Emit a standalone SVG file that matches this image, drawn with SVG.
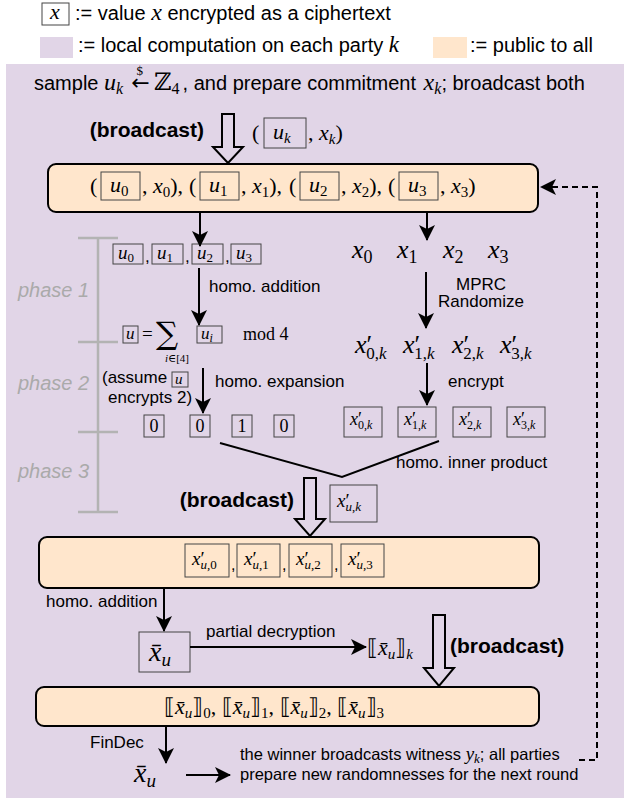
<svg xmlns="http://www.w3.org/2000/svg" width="624" height="798" viewBox="0 0 624 798">
<style>
.s{font-family:"Liberation Sans",Arial,sans-serif;fill:#000}
.b{font-family:"Liberation Sans",Arial,sans-serif;font-weight:bold;fill:#000}
.m{font-family:"Liberation Serif","DejaVu Serif",serif;font-style:italic;fill:#000}
.u{font-style:normal}
.ph{font-family:"Liberation Sans",Arial,sans-serif;font-style:italic;fill:#aaaaaa;font-size:20px}
.pub{fill:#ffe6cc;stroke:#000;stroke-width:2}
.ct{fill:none;stroke:#444;stroke-width:1}
.ln{fill:none;stroke:#000;stroke-width:2}
.ha{fill:none;stroke:#000;stroke-width:2;stroke-linejoin:miter}
.bar{stroke:#b3b3b3;stroke-width:2.5;fill:none}
</style>
<defs>
<marker id="ah" viewBox="0 0 16 16" refX="15" refY="8" markerWidth="16" markerHeight="16" markerUnits="userSpaceOnUse" orient="auto"><path d="M0,0 L16,8 L0,16 L4,8 Z" fill="#000"/></marker>
</defs>
<rect x="0" y="0" width="624" height="798" fill="#fff"/>
<g id="legend">
<rect class="ct" x="42" y="3" width="27" height="22"/>
<text class="m" x="50" y="19" font-size="22">x</text>
<text class="s" x="75" y="20" font-size="20">:= value <tspan class="m" font-size="24">x</tspan> encrypted as a ciphertext</text>
<rect x="40" y="37" width="33" height="21" fill="#e1d5e7"/>
<text class="s" x="78" y="52" font-size="20">:= local computation on each party <tspan class="m" font-size="23">k</tspan></text>
<rect x="433" y="37" width="34" height="21" fill="#ffe6cc"/>
<text class="s" x="470" y="52" font-size="20">:= public to all</text>
</g>
<rect id="panel" x="6" y="64" width="618" height="734" fill="#e1d5e7"/>
<g id="sample">
<text class="s" x="34" y="90" font-size="20">sample <tspan class="m" font-size="24">u</tspan><tspan class="m" font-size="16" dy="4">k</tspan><tspan class="u" font-family="DejaVu Sans" font-size="22" dx="8" dy="-4">←</tspan><tspan class="m u" font-size="13" dx="-13" dy="-15">$</tspan><tspan class="m u" font-size="24" dx="11" dy="15">ℤ</tspan><tspan class="m u" font-size="16" dy="4">4</tspan><tspan dx="3" dy="-4">, and prepare commitment </tspan><tspan class="m" font-size="24" dx="2">x</tspan><tspan class="m" font-size="16" dy="4">k</tspan><tspan dy="-4">; broadcast both</tspan></text>
</g>
<g id="bc1">
<text class="b" x="204" y="137" font-size="21" text-anchor="end">(broadcast)</text>
<path class="ha" d="M222,114 L222,147 L213,147 L228,163 L243,147 L234,147 L234,114 Z"/>
<text class="m u" x="252" y="140" font-size="22">(</text>
<rect class="ct" x="264" y="118" width="42" height="30"/>
<text class="m" x="273" y="139" font-size="22">u<tspan font-size="15" dy="4">k</tspan></text>
<text class="m u" x="308" y="140" font-size="22">, <tspan class="m">x</tspan><tspan class="m" font-size="15" dy="4">k</tspan><tspan dy="-4">)</tspan></text>
</g>
<g id="box1">
<rect class="pub" x="48" y="164" width="490" height="48" rx="8"/>
<text class="m u" x="90" y="193" font-size="22">(</text>
<rect class="ct" x="101" y="172" width="39" height="28"/>
<text class="m" x="110" y="192" font-size="22">u<tspan class="u" font-size="15" dy="4">0</tspan></text>
<text class="m u" x="142" y="193" font-size="22">, <tspan class="m">x</tspan><tspan font-size="15" dy="4">0</tspan><tspan dy="-4">),</tspan></text>
<text class="m u" x="189" y="193" font-size="22">(</text>
<rect class="ct" x="200" y="172" width="39" height="28"/>
<text class="m" x="209" y="192" font-size="22">u<tspan class="u" font-size="15" dy="4">1</tspan></text>
<text class="m u" x="241" y="193" font-size="22">, <tspan class="m">x</tspan><tspan font-size="15" dy="4">1</tspan><tspan dy="-4">),</tspan></text>
<text class="m u" x="289" y="193" font-size="22">(</text>
<rect class="ct" x="300" y="172" width="39" height="28"/>
<text class="m" x="309" y="192" font-size="22">u<tspan class="u" font-size="15" dy="4">2</tspan></text>
<text class="m u" x="341" y="193" font-size="22">, <tspan class="m">x</tspan><tspan font-size="15" dy="4">2</tspan><tspan dy="-4">),</tspan></text>
<text class="m u" x="388" y="193" font-size="22">(</text>
<rect class="ct" x="399" y="172" width="39" height="28"/>
<text class="m" x="408" y="192" font-size="22">u<tspan class="u" font-size="15" dy="4">3</tspan></text>
<text class="m u" x="440" y="193" font-size="22">, <tspan class="m">x</tspan><tspan font-size="15" dy="4">3</tspan><tspan dy="-4">)</tspan></text>
</g>
<g id="phases">
<path class="bar" d="M98,238 L98,512 M78,238 L118,238 M78,342 L118,342 M78,432 L118,432 M78,512 L118,512"/>
<text class="ph" x="18" y="297">phase 1</text>
<text class="ph" x="18" y="390">phase 2</text>
<text class="ph" x="18" y="478">phase 3</text>
</g>
<g id="urow">
<rect class="ct" x="113" y="244" width="30" height="20"/>
<text class="m" x="118" y="259" font-size="19">u<tspan class="u" font-size="13" dy="3">0</tspan></text>
<text class="s" x="145" y="262" font-size="17">,</text>
<rect class="ct" x="152" y="244" width="31" height="20"/>
<text class="m" x="157" y="259" font-size="19">u<tspan class="u" font-size="13" dy="3">1</tspan></text>
<text class="s" x="185" y="262" font-size="17">,</text>
<rect class="ct" x="192" y="244" width="31" height="20"/>
<text class="m" x="197" y="259" font-size="19">u<tspan class="u" font-size="13" dy="3">2</tspan></text>
<text class="s" x="225" y="262" font-size="17">,</text>
<rect class="ct" x="231" y="244" width="30" height="20"/>
<text class="m" x="236" y="259" font-size="19">u<tspan class="u" font-size="13" dy="3">3</tspan></text>
</g>
<g id="sum">
<rect class="ct" x="123" y="326" width="15" height="17"/>
<text class="m" x="126" y="339" font-size="17">u</text>
<text class="m u" x="142" y="340" font-size="19">=</text>
<text class="u" x="156" y="344" font-size="31" font-family="DejaVu Serif">∑</text>
<text class="m" x="177" y="362" font-size="11" text-anchor="middle">i<tspan class="u">∈[4]</tspan></text>
<rect class="ct" x="197" y="326" width="25" height="17"/>
<text class="m" x="201" y="339" font-size="17">u<tspan font-size="12" dy="3">i</tspan></text>
<text class="m u" x="243" y="340" font-size="18">mod 4</text>
</g>
<g id="xrow">
<text class="m" x="352" y="258" font-size="26">x<tspan class="u" font-size="18" dy="5">0</tspan></text>
<text class="m" x="397" y="258" font-size="26">x<tspan class="u" font-size="18" dy="5">1</tspan></text>
<text class="m" x="443" y="258" font-size="26">x<tspan class="u" font-size="18" dy="5">2</tspan></text>
<text class="m" x="488" y="258" font-size="26">x<tspan class="u" font-size="18" dy="5">3</tspan></text>
</g>
<g id="xprow">
<text class="m" x="355" y="353" font-size="26">x<tspan class="u">′</tspan><tspan class="u" font-size="17" dx="-6" dy="6">0,<tspan class="m">k</tspan></tspan></text>
<text class="m" x="403" y="353" font-size="26">x<tspan class="u">′</tspan><tspan class="u" font-size="17" dx="-6" dy="6">1,<tspan class="m">k</tspan></tspan></text>
<text class="m" x="452" y="353" font-size="26">x<tspan class="u">′</tspan><tspan class="u" font-size="17" dx="-6" dy="6">2,<tspan class="m">k</tspan></tspan></text>
<text class="m" x="500" y="353" font-size="26">x<tspan class="u">′</tspan><tspan class="u" font-size="17" dx="-6" dy="6">3,<tspan class="m">k</tspan></tspan></text>
</g>
<g id="xpbox">
<rect class="ct" x="344" y="407" width="38" height="30"/>
<text class="m" x="350" y="425" font-size="18">x<tspan class="u">′</tspan><tspan class="u" font-size="12" dx="-4" dy="4">0,<tspan class="m">k</tspan></tspan></text>
<rect class="ct" x="398" y="407" width="38" height="30"/>
<text class="m" x="404" y="425" font-size="18">x<tspan class="u">′</tspan><tspan class="u" font-size="12" dx="-4" dy="4">1,<tspan class="m">k</tspan></tspan></text>
<rect class="ct" x="453" y="407" width="38" height="30"/>
<text class="m" x="459" y="425" font-size="18">x<tspan class="u">′</tspan><tspan class="u" font-size="12" dx="-4" dy="4">2,<tspan class="m">k</tspan></tspan></text>
<rect class="ct" x="507" y="407" width="38" height="30"/>
<text class="m" x="513" y="425" font-size="18">x<tspan class="u">′</tspan><tspan class="u" font-size="12" dx="-4" dy="4">3,<tspan class="m">k</tspan></tspan></text>
</g>
<g id="assume">
<text class="s" x="102" y="383" font-size="17">(assume</text>
<rect class="ct" x="172" y="372" width="16" height="15"/>
<text class="m" x="175" y="384" font-size="15">u</text>
<text class="s" x="108" y="403" font-size="17">encrypts 2)</text>
</g>
<g id="bits">
<rect class="ct" x="144" y="415" width="20" height="22"/>
<text class="m u" x="154" y="432" font-size="18" text-anchor="middle">0</text>
<rect class="ct" x="190" y="415" width="20" height="22"/>
<text class="m u" x="200" y="432" font-size="18" text-anchor="middle">0</text>
<rect class="ct" x="232" y="415" width="20" height="22"/>
<text class="m u" x="242" y="432" font-size="18" text-anchor="middle">1</text>
<rect class="ct" x="274" y="415" width="20" height="22"/>
<text class="m u" x="284" y="432" font-size="18" text-anchor="middle">0</text>
</g>
<g id="bc2">
<text class="b" x="294" y="507" font-size="21" text-anchor="end">(broadcast)</text>
<path class="ha" d="M304,478 L304,519 L295,519 L310,536 L325,519 L316,519 L316,478 Z"/>
<rect class="ct" x="330" y="485" width="47" height="37"/>
<text class="m" x="337" y="507" font-size="19">x<tspan class="u">′</tspan><tspan font-size="13" dx="-4" dy="4">u<tspan class="u">,</tspan>k</tspan></text>
</g>
<g id="box2">
<rect class="pub" x="39" y="537" width="500" height="51" rx="8"/>
<rect class="ct" x="185" y="544" width="44" height="33"/>
<text class="m" x="192" y="565" font-size="19">x<tspan class="u">′</tspan><tspan font-size="13" dx="-4" dy="4">u<tspan class="u">,0</tspan></tspan></text>
<text class="s" x="231" y="570" font-size="16">,</text>
<rect class="ct" x="237" y="544" width="43" height="33"/>
<text class="m" x="244" y="565" font-size="19">x<tspan class="u">′</tspan><tspan font-size="13" dx="-4" dy="4">u<tspan class="u">,1</tspan></tspan></text>
<text class="s" x="282" y="570" font-size="16">,</text>
<rect class="ct" x="289" y="544" width="43" height="33"/>
<text class="m" x="296" y="565" font-size="19">x<tspan class="u">′</tspan><tspan font-size="13" dx="-4" dy="4">u<tspan class="u">,2</tspan></tspan></text>
<text class="s" x="334" y="570" font-size="16">,</text>
<rect class="ct" x="341" y="544" width="43" height="33"/>
<text class="m" x="348" y="565" font-size="19">x<tspan class="u">′</tspan><tspan font-size="13" dx="-4" dy="4">u<tspan class="u">,3</tspan></tspan></text>
</g>
<g id="xbar">
<rect class="ct" x="139" y="632" width="51" height="40"/>
<text class="m" x="149" y="661" font-size="28">x̄<tspan font-size="19" dy="5">u</tspan></text>
</g>
<g id="share">
<text class="m" x="367" y="655" font-size="22"><tspan class="u" font-family="DejaVu Serif">⟦</tspan>x̄<tspan font-size="15" dy="4">u</tspan><tspan class="u" dy="-4" font-family="DejaVu Serif">⟧</tspan><tspan font-size="15" dy="4">k</tspan></text>
</g>
<g id="bc3">
<path class="ha" d="M433,615 L433,668 L424,668 L439,686 L454,668 L445,668 L445,615 Z"/>
<text class="b" x="450" y="653" font-size="21">(broadcast)</text>
</g>
<g id="box3">
<rect class="pub" x="36" y="687" width="503" height="39" rx="8"/>
<text class="m" x="164" y="714" font-size="22"><tspan class="u" font-family="DejaVu Serif">⟦</tspan>x̄<tspan font-size="15" dy="4">u</tspan><tspan class="u" dy="-4" font-family="DejaVu Serif">⟧</tspan><tspan class="u" font-size="15" dy="4">0</tspan><tspan class="u" dy="-4">, </tspan><tspan class="u" font-family="DejaVu Serif">⟦</tspan>x̄<tspan font-size="15" dy="4">u</tspan><tspan class="u" dy="-4" font-family="DejaVu Serif">⟧</tspan><tspan class="u" font-size="15" dy="4">1</tspan><tspan class="u" dy="-4">, </tspan><tspan class="u" font-family="DejaVu Serif">⟦</tspan>x̄<tspan font-size="15" dy="4">u</tspan><tspan class="u" dy="-4" font-family="DejaVu Serif">⟧</tspan><tspan class="u" font-size="15" dy="4">2</tspan><tspan class="u" dy="-4">, </tspan><tspan class="u" font-family="DejaVu Serif">⟦</tspan>x̄<tspan font-size="15" dy="4">u</tspan><tspan class="u" dy="-4" font-family="DejaVu Serif">⟧</tspan><tspan class="u" font-size="15" dy="4">3</tspan></text>
</g>
<g id="final">
<text class="m" x="134" y="782" font-size="28">x̄<tspan font-size="19" dy="5">u</tspan></text>
<text class="s" x="240" y="760" font-size="16.5">the winner broadcasts witness <tspan class="m" font-size="19">y</tspan><tspan class="m" font-size="13" dy="3">k</tspan><tspan dy="-3">; all parties</tspan></text>
<text class="s" x="240" y="780" font-size="16.5">prepare new randomnesses for the next round</text>
</g>
<g id="labels">
<text class="s" x="209" y="292" font-size="17">homo. addition</text>
<text class="s" x="481" y="290" font-size="17" text-anchor="middle">MPRC</text>
<text class="s" x="481" y="307" font-size="17" text-anchor="middle">Randomize</text>
<text class="s" x="448" y="387" font-size="17">encrypt</text>
<text class="s" x="215" y="387" font-size="17">homo. expansion</text>
<text class="s" x="396" y="468" font-size="17">homo. inner product</text>
<text class="s" x="46" y="607" font-size="17">homo. addition</text>
<text class="s" x="206" y="637" font-size="17">partial decryption</text>
<text class="s" x="90" y="748" font-size="17">FinDec</text>
</g>
<g id="connectors">
<line class="ln" x1="200" y1="212" x2="200" y2="246" marker-end="url(#ah)"/>
<line class="ln" x1="427" y1="212" x2="427" y2="240" marker-end="url(#ah)"/>
<line class="ln" x1="199" y1="268" x2="199" y2="325" marker-end="url(#ah)"/>
<line class="ln" x1="426" y1="272" x2="426" y2="328" marker-end="url(#ah)"/>
<line class="ln" x1="203" y1="368" x2="203" y2="413" marker-end="url(#ah)"/>
<line class="ln" x1="427" y1="363" x2="427" y2="405" marker-end="url(#ah)"/>
<polyline class="ln" points="220,443 342,477 439,441"/>
<line class="ln" x1="164" y1="588" x2="164" y2="631" marker-end="url(#ah)"/>
<line class="ln" x1="190" y1="647" x2="366" y2="647" marker-end="url(#ah)"/>
<line class="ln" x1="166" y1="726" x2="166" y2="763" marker-end="url(#ah)"/>
<line class="ln" x1="186" y1="775" x2="230" y2="775" marker-end="url(#ah)"/>
<path class="ln" d="M579,760 L597,760 L597,187 L541,187" stroke-dasharray="6 4" marker-end="url(#ah)"/>
</g>
</svg>
